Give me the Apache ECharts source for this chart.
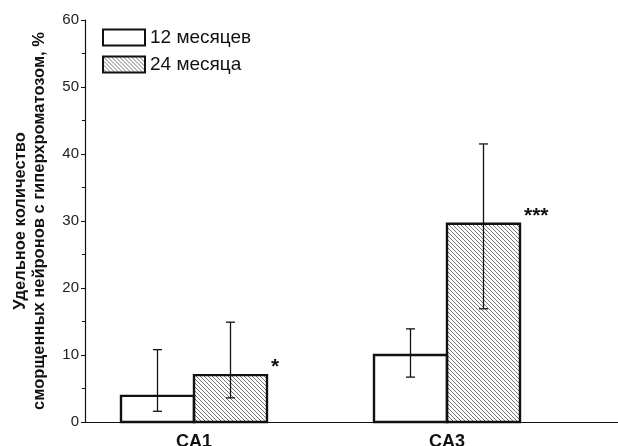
<!DOCTYPE html>
<html>
<head>
<meta charset="utf-8">
<script src="https://cdn.jsdelivr.net/npm/echarts@6/dist/echarts.min.js"></script>
<style>html,body{margin:0;padding:0;background:#fff}#c{width:618px;height:446px}</style>
</head>
<body>
<div id="c"></div>
<script>
var categories = ['CA1', 'CA3'];
var seriesNames = ['12 месяцев', '24 месяца'];
var values12 = [3.9, 10.0];
var low12 = [1.6, 6.7];
var high12 = [10.8, 13.9];
var values24 = [7.0, 29.6];
var low24 = [3.6, 16.9];
var high24 = [14.9, 41.5];
var signif24 = ['*', '***'];
var yTicks = [0, 10, 20, 30, 40, 50, 60];

var FONT = '"Liberation Sans", Arial, sans-serif';

function makeHatch() {
  var s = 4;
  var cv = document.createElement('canvas');
  cv.width = s; cv.height = s;
  var ctx = cv.getContext('2d');
  ctx.fillStyle = '#ffffff';
  ctx.fillRect(0, 0, s, s);
  ctx.strokeStyle = '#666666';
  ctx.lineWidth = 0.9;
  ctx.beginPath();
  for (var k = -1; k <= 1; k++) {
    ctx.moveTo(k * s - 1, -1);
    ctx.lineTo(k * s + s + 1, s + 1);
  }
  ctx.stroke();
  return cv;
}
var hatch = makeHatch();

var chart = echarts.init(document.getElementById('c'), null, {renderer: 'canvas'});
var BAR_W = 73;
var BORDER = 2.4;

function overlayRender(vals, lows, highs, side, stars) {
  return function (params, api) {
    var i = api.value(0);
    var base = api.coord([i, 0]);
    var bt = api.coord([i, vals[i]]);
    var top = api.coord([i, highs[i]]);
    var bot = api.coord([i, lows[i]]);
    var x0 = base[0] + (side < 0 ? -BAR_W : 0);
    var x = x0 + BAR_W / 2;
    var cap = 4.5;
    var children = [
      {type: 'rect', shape: {x: x0, y: bt[1], width: BAR_W, height: base[1] - bt[1]},
       style: {fill: 'none', stroke: '#111', lineWidth: BORDER}},
      {type: 'line', shape: {x1: x, y1: top[1], x2: x, y2: bot[1]}, style: {stroke: '#111', lineWidth: 1.3}},
      {type: 'line', shape: {x1: x - cap, y1: top[1], x2: x + cap, y2: top[1]}, style: {stroke: '#111', lineWidth: 1.3}},
      {type: 'line', shape: {x1: x - cap, y1: bot[1], x2: x + cap, y2: bot[1]}, style: {stroke: '#111', lineWidth: 1.3}}
    ];
    if (stars) {
      children.push({type: 'text', style: {text: stars[i], x: x0 + BAR_W + 4, y: bt[1] + 3,
        fill: '#111', font: 'bold 21px ' + FONT, textAlign: 'left', textVerticalAlign: 'bottom'}});
    }
    return {type: 'group', children: children};
  };
}

var idx = categories.map(function (c, i) { return [i]; });

var option = {
  animation: false,
  backgroundColor: '#ffffff',
  legend: {
    orient: 'vertical', left: 102, top: 28, padding: 0, itemWidth: 42, itemHeight: 16, itemGap: 8,
    icon: 'rect',
    itemStyle: {borderColor: '#111', borderWidth: 2},
    textStyle: {fontFamily: FONT, fontSize: 19, color: '#111', padding: [0, 0, 0, 0]},
    data: seriesNames
  },
  grid: [
    {left: 85, right: 0, top: 20, bottom: 24, containLabel: false, outerBoundsMode: 'none'},
    {left: 67.5, width: 506, top: 20, bottom: 24, containLabel: false, outerBoundsMode: 'none'}
  ],
  xAxis: [
    {gridIndex: 0, type: 'value', min: 0, max: 1, show: true,
     axisLine: {show: true, lineStyle: {color: '#111', width: 1.2}}, axisTick: {show: false},
     axisLabel: {show: false}, splitLine: {show: false}},
    {gridIndex: 1, type: 'category', data: categories,
     axisLine: {show: false}, axisTick: {show: false},
     axisLabel: {fontFamily: FONT, fontSize: 18, fontWeight: 'bold', color: '#111', margin: 11}}
  ],
  yAxis: [
    {gridIndex: 0, type: 'value', min: 0, max: 60, interval: 10,
     name: 'Удельное количество\nсморщенных нейронов с гиперхроматозом, %',
     nameLocation: 'middle', nameGap: 36, nameRotate: 90,
     nameTextStyle: {fontFamily: FONT, fontSize: 16.5, fontWeight: 'bold', color: '#111', lineHeight: 19},
     axisLine: {show: true, lineStyle: {color: '#111', width: 1.2}},
     axisTick: {show: true, inside: false, length: 4, lineStyle: {color: '#111'}},
     minorTick: {show: true, splitNumber: 2, length: 3, lineStyle: {color: '#111'}},
     axisLabel: {fontFamily: FONT, fontSize: 15, color: '#222', margin: 6,
       formatter: function (v) { return yTicks.indexOf(v) >= 0 ? String(v) : ''; }},
     splitLine: {show: false}},
    {gridIndex: 1, type: 'value', min: 0, max: 60, interval: 10, show: false}
  ],
  series: [
    {name: seriesNames[0], type: 'bar', xAxisIndex: 1, yAxisIndex: 1, data: values12,
     barWidth: BAR_W, barGap: '0%',
     itemStyle: {color: '#ffffff'}},
    {name: seriesNames[1], type: 'bar', xAxisIndex: 1, yAxisIndex: 1, data: values24,
     barWidth: BAR_W, barGap: '0%',
     itemStyle: {color: {image: hatch, repeat: 'repeat'}}},
    {type: 'custom', xAxisIndex: 1, yAxisIndex: 1, data: idx,
     renderItem: overlayRender(values12, low12, high12, -1, null), z: 5, silent: true},
    {type: 'custom', xAxisIndex: 1, yAxisIndex: 1, data: idx,
     renderItem: overlayRender(values24, low24, high24, 1, signif24), z: 5, silent: true}
  ]
};
chart.setOption(option);
</script>
</body>
</html>
